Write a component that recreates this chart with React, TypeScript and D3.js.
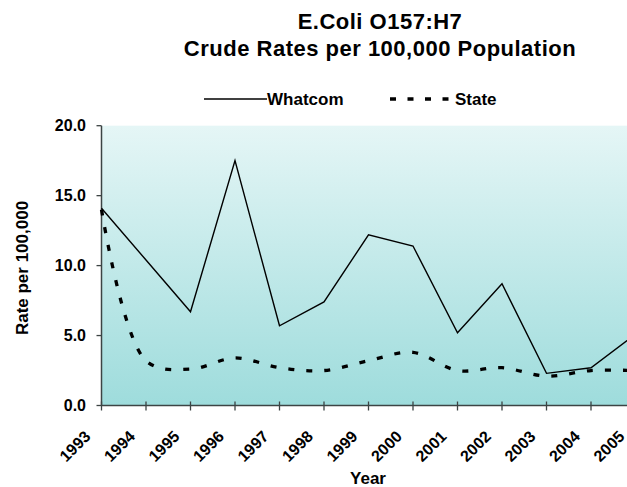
import React, { useEffect, useRef } from "react";
import * as d3 from "d3";

// data
const years = ["1993", "1994", "1995", "1996", "1997", "1998", "1999", "2000", "2001", "2002", "2003", "2004", "2005"];
const whatcom = [14.1, 10.4, 6.7, 17.5, 5.7, 7.4, 12.2, 11.4, 5.2, 8.7, 2.3, 2.7, 5.1];
const state = [14.0, 3.2, 2.6, 3.4, 2.7, 2.5, 3.2, 3.8, 2.5, 2.7, 2.1, 2.5, 2.5];
const yTicks = [0, 5, 10, 15, 20];

const W = 627;
const H = 487;
const FONT = "'Liberation Sans', Arial, sans-serif";

const App = () => {
  const ref = useRef<SVGSVGElement | null>(null);

  useEffect(() => {
    const svg = d3.select(ref.current);
    svg.selectAll("*").remove();

    const left = 101.5;
    const top = 125.7;
    const bottom = 405.5;
    const right = 635.5; // plot runs past the picture edge

    // Scales
    const x = d3.scalePoint<string>().domain(years).range([left, right]);
    const y = d3.scaleLinear().domain([0, 20]).range([bottom, top]);

    // Background gradient
    const grad = svg
      .append("defs")
      .append("linearGradient")
      .attr("id", "plot-bg")
      .attr("x1", "0%")
      .attr("y1", "0%")
      .attr("x2", "0%")
      .attr("y2", "100%");
    grad.append("stop").attr("offset", "0%").attr("stop-color", "#e5f6f6");
    grad.append("stop").attr("offset", "100%").attr("stop-color", "#9edcdc");

    svg
      .append("rect")
      .attr("x", left)
      .attr("y", top)
      .attr("width", right - left)
      .attr("height", bottom - top)
      .attr("fill", "url(#plot-bg)");

    // Title
    const title = svg
      .append("text")
      .attr("text-anchor", "middle")
      .attr("font-family", FONT)
      .attr("font-weight", "bold")
      .attr("font-size", 22)
      .attr("letter-spacing", 0.5)
      .attr("fill", "#000");
    title.append("tspan").attr("x", 380).attr("y", 29).text("E.Coli O157:H7");
    title.append("tspan").attr("x", 380).attr("y", 56).text("Crude Rates per 100,000 Population");

    // Legend
    svg.append("line").attr("x1", 204).attr("x2", 267).attr("y1", 99).attr("y2", 99)
      .attr("stroke", "#000").attr("stroke-width", 1.3);
    svg.append("text").attr("x", 267).attr("y", 105).attr("font-family", FONT)
      .attr("font-weight", "bold").attr("font-size", 17).text("Whatcom");
    svg.append("line").attr("x1", 390).attr("x2", 455).attr("y1", 99).attr("y2", 99)
      .attr("stroke", "#000").attr("stroke-width", 3.3).attr("stroke-dasharray", "6 11.5");
    svg.append("text").attr("x", 455).attr("y", 105).attr("font-family", FONT)
      .attr("font-weight", "bold").attr("font-size", 17).text("State");

    // Axes
    const axisColor = "#3c4444";
    svg.append("line").attr("x1", left).attr("x2", left).attr("y1", top).attr("y2", bottom)
      .attr("stroke", axisColor).attr("stroke-width", 1.5);
    svg.append("line").attr("x1", left).attr("x2", right).attr("y1", bottom).attr("y2", bottom)
      .attr("stroke", axisColor).attr("stroke-width", 1.5);

    const yt = svg.append("g").selectAll("g").data(yTicks).enter().append("g");
    yt.append("line")
      .attr("x1", left - 5)
      .attr("x2", left)
      .attr("y1", (d) => y(d))
      .attr("y2", (d) => y(d))
      .attr("stroke", axisColor)
      .attr("stroke-width", 1.3);
    yt.append("text")
      .attr("x", 86)
      .attr("y", (d) => y(d))
      .attr("dy", "0.36em")
      .attr("text-anchor", "end")
      .attr("font-family", FONT)
      .attr("font-weight", "bold")
      .attr("font-size", 16)
      .text((d) => d3.format(".1f")(d));

    const xt = svg.append("g").selectAll("g").data(years).enter().append("g");
    xt.append("line")
      .attr("x1", (d) => x(d)!)
      .attr("x2", (d) => x(d)!)
      .attr("y1", bottom - 4)
      .attr("y2", bottom + 5)
      .attr("stroke", axisColor)
      .attr("stroke-width", 1.3);
    xt.append("text")
      .attr("transform", (d) => `translate(${x(d)! - 10},437.5) rotate(-45)`)
      .attr("text-anchor", "end")
      .attr("font-family", FONT)
      .attr("font-weight", "bold")
      .attr("font-size", 16)
      .text((d) => d);

    // Axis titles
    svg.append("text")
      .attr("x", 368)
      .attr("y", 484)
      .attr("text-anchor", "middle")
      .attr("font-family", FONT)
      .attr("font-weight", "bold")
      .attr("font-size", 17)
      .text("Year");
    svg.append("text")
      .attr("transform", "translate(27.5,268) rotate(-90)")
      .attr("text-anchor", "middle")
      .attr("font-family", FONT)
      .attr("font-weight", "bold")
      .attr("font-size", 17)
      .text("Rate per 100,000");

    // Lines
    const solid = d3
      .line<number>()
      .x((_, i) => x(years[i])!)
      .y((d) => y(d));
    const smooth = d3
      .line<number>()
      .x((_, i) => x(years[i])!)
      .y((d) => y(d))
      .curve(d3.curveCatmullRom.alpha(0.5));

    svg.append("path")
      .datum(state)
      .attr("fill", "none")
      .attr("stroke", "#000")
      .attr("stroke-width", 3.3)
      .attr("stroke-dasharray", "6 12")
      .attr("d", smooth);

    svg.append("path")
      .datum(whatcom)
      .attr("fill", "none")
      .attr("stroke", "#000")
      .attr("stroke-width", 1.4)
      .attr("stroke-linejoin", "miter")
      .attr("d", solid);
  }, []);

  return (
    <div style={{ position: "absolute", left: 0, top: 0, width: W, height: H, overflow: "hidden", background: "#fff" }}>
      <svg ref={ref} width={W} height={H} style={{ display: "block" }} />
    </div>
  );
};

export default App;
